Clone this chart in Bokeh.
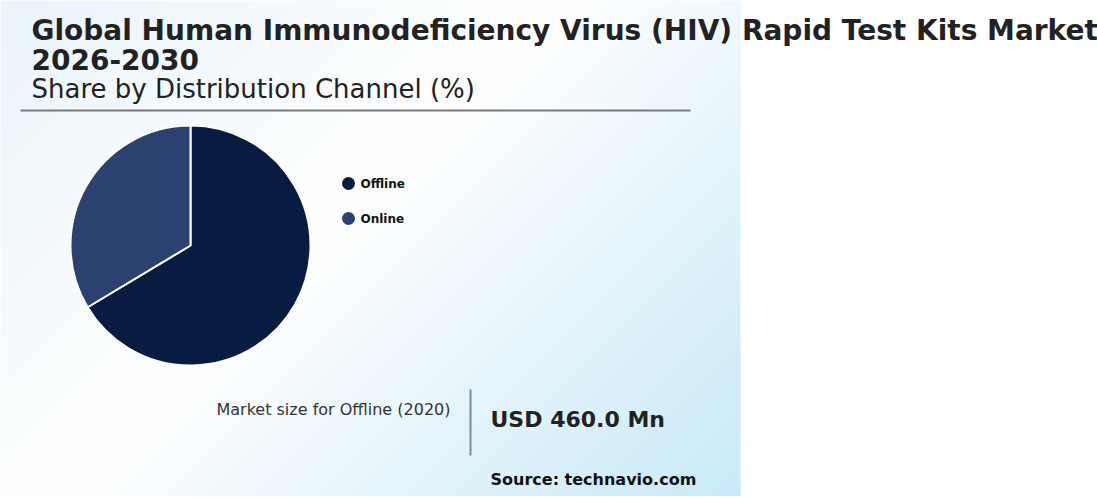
import numpy as np
from bokeh.plotting import figure
from bokeh.models import Range1d
from bokeh.core.properties import value
from bokeh.embed import file_html
from bokeh.resources import INLINE

# ---- data ----
channels = ["Offline", "Online"]
shares = [66.4, 33.6]
colors = ["#081c42", "#2b4170"]
title_line1 = "Global Human Immunodeficiency Virus (HIV) Rapid Test Kits Market"
title_line2 = "2026-2030"
subtitle = "Share by Distribution Channel (%)"
kpi_label = "Market size for Offline (2020)"
kpi_value = "USD 460.0 Mn"
source = "Source: technavio.com"

W, H = 1097, 496
p = figure(width=W, height=H, output_backend="svg", toolbar_location=None,
           x_range=Range1d(0, W), y_range=Range1d(0, H), min_border=0,
           outline_line_color=None, background_fill_color="white",
           border_fill_color="white")
p.axis.visible = False
p.grid.visible = False

# background gradient panel
PW, PH = 740, 496
xs = np.arange(PW)[None, :]
ys_top = (PH - 1 - np.arange(PH))[:, None]  # page y from top, row 0 at bottom
t = (xs + ys_top) / (740.0 + 496.0)
stops = np.array([0.0, 0.45, 1.0])
cr = np.array([233, 255, 200]); cg = np.array([245, 255, 234]); cb = np.array([250, 255, 248])
R = np.interp(t, stops, cr).astype(np.uint32)
G = np.interp(t, stops, cg).astype(np.uint32)
B = np.interp(t, stops, cb).astype(np.uint32)
img = (255 << 24) | (B << 16) | (G << 8) | R
p.image_rgba(image=[img.astype(np.uint32)], x=0, y=0, dw=PW, dh=PH)

def py(page_y):
    return H - page_y

def px(page_x):
    return page_x

font = value("DejaVu Sans")

# titles
p.text(x=[px(31)], y=[py(30)], text=[title_line1], text_font=font, text_font_size="28px",
       text_font_style="bold", text_color="#222222", text_baseline="middle")
p.text(x=[px(31)], y=[py(59)], text=[title_line2], text_font=font, text_font_size="28px",
       text_font_style="bold", text_color="#222222", text_baseline="middle")
p.text(x=[px(31)], y=[py(88)], text=[subtitle], text_font=font, text_font_size="26px",
       text_color="#222222", text_baseline="middle")
p.segment(x0=[px(20)], y0=[py(110)], x1=[px(690)], y1=[py(110)], line_color="#7a7a7a", line_width=2)

# pie
fr = np.array(shares) / sum(shares)
ends = np.pi / 2 - 2 * np.pi * np.concatenate([[0], np.cumsum(fr)])
p.wedge(x=[px(190)] * 2, y=[py(245)] * 2, radius=120, radius_units="screen",
        start_angle=list(ends[1:]), end_angle=list(ends[:-1]), direction="anticlock",
        fill_color=colors, line_color="white", line_width=2)

# legend
leg_y = [183, 218]
p.scatter(x=[px(348)] * 2, y=[py(v) for v in leg_y], size=13, marker="circle",
          fill_color=colors, line_color=None)
p.text(x=[px(360)] * 2, y=[py(v) for v in leg_y], text=channels, text_font=font,
       text_font_size="12px", text_font_style="bold", text_color="#111111", text_baseline="middle")

# KPI
p.text(x=[px(450)], y=[py(409)], text=[kpi_label], text_font=font, text_font_size="16px",
       text_color="#333333", text_baseline="middle", text_align="right")
p.segment(x0=[px(470)], y0=[py(389)], x1=[px(470)], y1=[py(455)], line_color="#7a8aa0", line_width=2)
p.text(x=[px(490)], y=[py(419)], text=[kpi_value], text_font=font, text_font_size="22px",
       text_font_style="bold", text_color="#222222", text_baseline="middle")
p.text(x=[px(490)], y=[py(479)], text=[source], text_font=font, text_font_size="16px",
       text_font_style="bold", text_color="#111111", text_baseline="middle")

open("out.html", "w").write(file_html(p, INLINE))
